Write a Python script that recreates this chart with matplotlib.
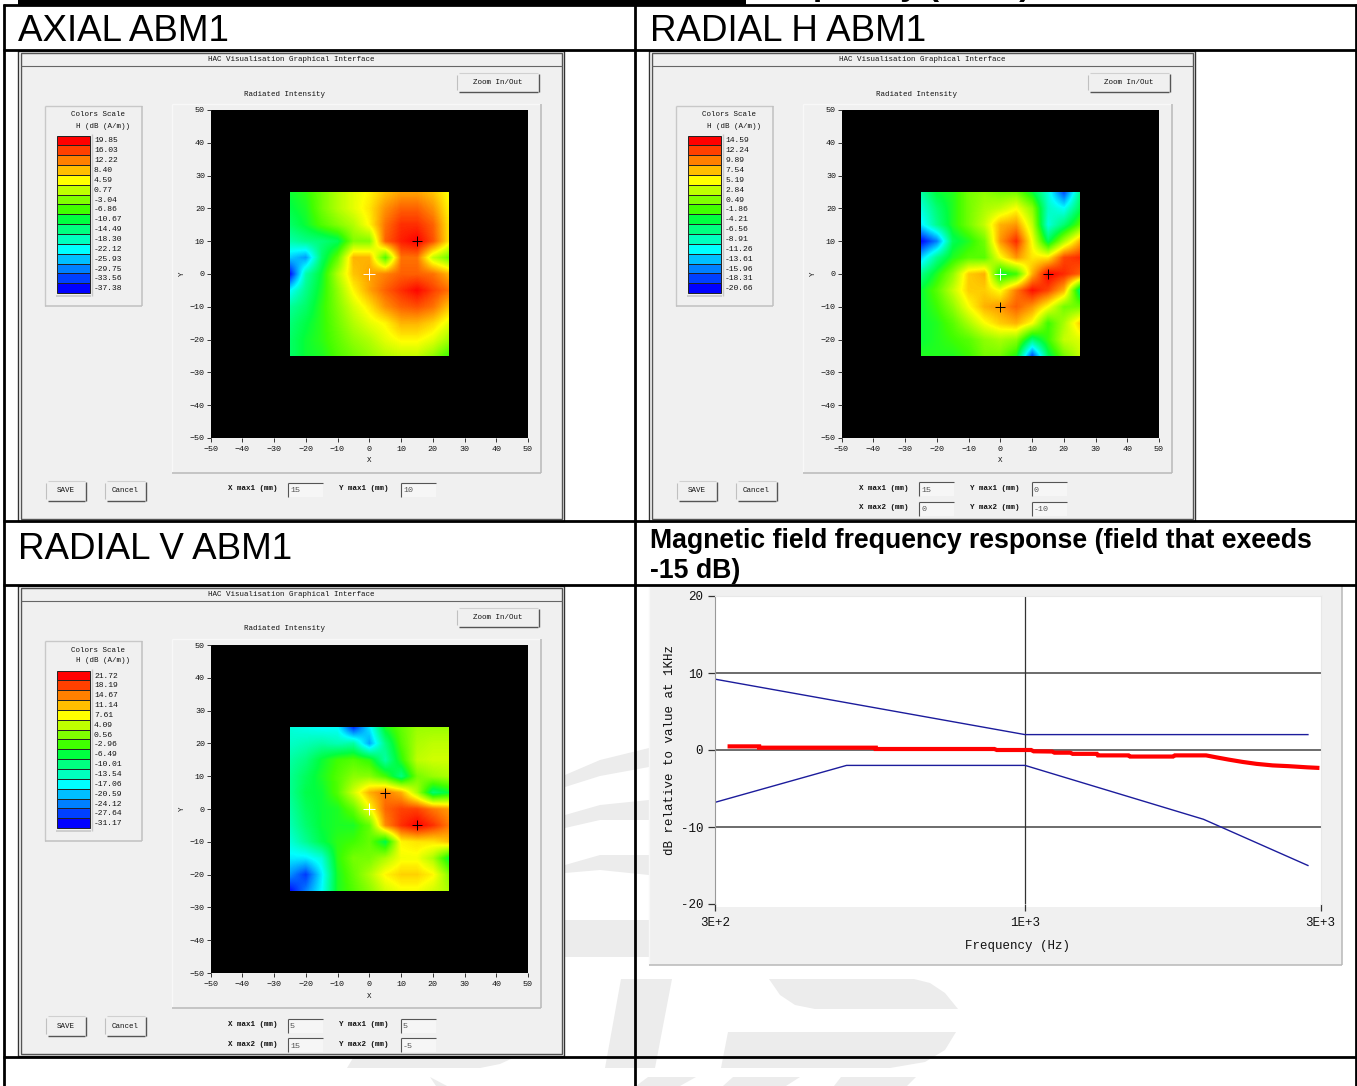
import matplotlib
matplotlib.use("Agg")
import matplotlib.pyplot as plt
import numpy as np
from matplotlib.colors import LinearSegmentedColormap
from matplotlib.patches import Polygon, Rectangle
from matplotlib.ticker import FixedLocator, NullLocator

W, H = 1357, 1086
MONO = "Liberation Mono"
SANS = "Liberation Sans"
PANEL = "#f0f0f0"
MARK = "#ececec"

scale_colors = ["#0000ff", "#0040ff", "#0080ff", "#00bfff", "#00ffff", "#00ffbf", "#00ff80", "#00ff40",
                "#40ff00", "#80ff00", "#bfff00", "#ffff00", "#ffbf00", "#ff8000", "#ff4000", "#ff0000"]

axial_scale = ["19.85", "16.03", "12.22", "8.40", "4.59", "0.77", "-3.04", "-6.86",
               "-10.67", "-14.49", "-18.30", "-22.12", "-25.93", "-29.75", "-33.56", "-37.38"]
radial_h_scale = ["14.59", "12.24", "9.89", "7.54", "5.19", "2.84", "0.49", "-1.86",
                  "-4.21", "-6.56", "-8.91", "-11.26", "-13.61", "-15.96", "-18.31", "-20.66"]
radial_v_scale = ["21.72", "18.19", "14.67", "11.14", "7.61", "4.09", "0.56", "-2.96",
                  "-6.49", "-10.01", "-13.54", "-17.06", "-20.59", "-24.12", "-27.64", "-31.17"]

# field scans, 5 mm grid, rows from y=25 down to y=-25, columns x=-25 to x=25
axial_field = [
    [-10, -8, -4, 0, 3, 5, 8, 10, 10, 8, 4],
    [-11, -9, -4, 0, 3, 6, 11, 14, 14, 11, 5],
    [-13, -10, -6, -3, 0, 5, 13, 17, 17, 14, 6],
    [-17, -15, -14, -12, -3, -3, 14, 18, 19.85, 15, 6],
    [-25, -28, -13, -5, 9, 9, -6, 13, 13, 1, -4],
    [-37, -17, -10, 0, 8, 10, 12, 14, 14, 13, 9],
    [-22, -15, -9, -2, 5, 10, 14, 17, 19.5, 16, 13],
    [-16, -13, -8, -3, 2, 6, 11, 14, 15, 13, 8],
    [-14, -11, -8, -4, 0, 3, 5, 9, 9, 7, 3],
    [-13, -10, -8, -5, -2, 0, 3, 5, 5, 3, -1],
    [-13, -10, -9, -6, -4, -2, 0, 1, 1, -2, -7],
]
radial_h_field = [
    [-8, -4, -3, 0, 1, 0, 0, -4, -10, -18, -7],
    [-10, -6, -3, 0, 2, 3, 5, 1, -9, -11, -5],
    [-12, -7, -3, 0, 3, 8, 9, 3, -10, -6, -1],
    [-20.6, -16, -5, -3, 0, 9, 13, 5, -5, 2, 8],
    [-13, -7, -3, -1, -1, 5, 9, 6, 6, 12, 13],
    [-7, -3, 1, 7, 8, -4, -2, 8, 14.5, 13, 11],
    [-4, -1, 3, 7, 7, 5, 10, 14, 12, 8, -6],
    [-4, -2, 1, 5, 8, 9, 11, 9, 5, 0, 0],
    [-4, -3, -1, 2, 5, 7, 8, 5, -2, 2, 7],
    [-4, -3, -2, -1, 1, 2, 1, -6, -2, 3, 4],
    [-3, -3, -3, -2, 0, 0, -3, -18, -5, 0, 3],
]
radial_v_field = [
    [-15, -16, -17, -17, -29, -18, -5, -1, 2, 2, 2],
    [-14, -13, -12, -13, -12, -22, -10, -2, 3, 4, 4],
    [-12, -10, -6, -3, -2, -4, -12, -4, 4, 5, 5],
    [-11, -8, -5, -2, 1, 1, -3, -10, 0, 2, 3],
    [-11, -7, -6, -2, 5, 12, 15, 12, 3, -9, -6],
    [-12, -8, -6, -5, -1, 7, 16, 18, 18, 15, 13],
    [-13, -9, -6, -5, -5, -1, 14, 19, 21.7, 19, 15],
    [-15, -11, -7, -4, -3, -1, -7, 8, 9, 9, 11],
    [-18, -18, -15, -4, 0, 0, 3, 7, 7, 3, -6],
    [-23, -28, -18, -5, -1, 3, 8, 10, 10, 8, 1],
    [-31, -24, -17, -5, -2, 1, 5, 7, 7, 5, 3],
]

axial_peaks = [(15, 10)]
radial_h_peaks = [(15, 0), (0, -10)]
radial_v_peaks = [(5, 5), (15, -5)]

axial_inputs = [("X max1", "15", "Y max1", "10")]
radial_h_inputs = [("X max1", "15", "Y max1", "0"), ("X max2", "0", "Y max2", "-10")]
radial_v_inputs = [("X max1", "5", "Y max1", "5"), ("X max2", "15", "Y max2", "-5")]

mask_upper_f = [300, 1000, 3000]
mask_upper_db = [9.2, 2, 2]
mask_lower_f = [300, 500, 1000, 2000, 3000]
mask_lower_db = [-6.8, -2, -2, -9, -15]

response_f = [315, 356, 356, 560, 560, 888, 896, 1024, 1034, 1111, 1121, 1192, 1203, 1322, 1327,
              1495, 1503, 1777, 1789, 2020, 2100, 2206, 2328, 2457, 2615, 2784, 2990, 3137]
response_db = [0.47, 0.47, 0.3, 0.3, 0.13, 0.13, 0, 0, -0.17, -0.2, -0.35, -0.35, -0.5, -0.5, -0.7,
               -0.7, -0.85, -0.85, -0.7, -0.7, -0.95, -1.25, -1.55, -1.8, -2.0, -2.1, -2.25, -2.33]

field_cmap = LinearSegmentedColormap.from_list("hac", scale_colors)

fig = plt.figure(figsize=(W / 100, H / 100), dpi=100, facecolor="white")


def px_axes(x0, y0, x1, y1, **kw):
    return fig.add_axes([x0 / W, 1 - y1 / H, (x1 - x0) / W, (y1 - y0) / H], **kw)


bg = px_axes(0, 0, W, H)
bg.set_xlim(0, W)
bg.set_ylim(H, 0)
bg.axis("off")
bg.set_zorder(1)


def mono(x, y, s, size=5.4, ha="left", color="#111111", **kw):
    bg.text(x, y, s, family=MONO, fontsize=size, ha=ha, va="center", color=color, zorder=6, **kw)


def hline(x0, x1, y, color, lw=0.8, z=5):
    bg.plot([x0, x1], [y, y], color=color, lw=lw, zorder=z, solid_capstyle="butt")


def vline(x, y0, y1, color, lw=0.8, z=5):
    bg.plot([x, x], [y0, y1], color=color, lw=lw, zorder=z, solid_capstyle="butt")


def sunken_panel(x0, y0, w, h, dark="#b8b8b8", light="#f8f8f8"):
    bg.add_patch(Rectangle((x0, y0), w, h, fc=PANEL, ec="none", zorder=3))
    hline(x0, x0 + w, y0, light, 1.0, 3.5)
    vline(x0, y0, y0 + h, light, 1.0, 3.5)
    hline(x0, x0 + w, y0 + h, dark, 1.1, 3.5)
    vline(x0 + w, y0, y0 + h, dark, 1.1, 3.5)


def button(x0, y0, x1, y1, label):
    hline(x0 + 2, x1 - 1, y0, "#d0d0d0")
    vline(x0, y0 + 2, y1 - 2, "#c0c0c0")
    hline(x0 + 2, x1 - 1, y1, "#555555", 1.0)
    vline(x1, y0 + 1, y1, "#555555", 1.0)
    mono((x0 + x1) / 2, (y0 + y1) / 2, label, ha="center")


def input_box(x0, y, value):
    bg.add_patch(Rectangle((x0, y - 7), 35, 14, fc="#f6f6f6", ec="none", zorder=4))
    hline(x0, x0 + 35, y - 7, "#555555")
    vline(x0, y - 7, y + 7, "#555555")
    mono(x0 + 2, y + 1, value, color="#555555", size=6)


def window(dx, dy, scale, field, peaks, inputs, rows):
    # frame
    bg.add_patch(Rectangle((18 + dx, 51 + dy), 546, 470, fc="white", ec="#333333", lw=1.0, zorder=2))
    bg.add_patch(Rectangle((21 + dx, 53 + dy), 541, 466, fc=PANEL, ec="#555555", lw=1.0, zorder=2))
    hline(21 + dx, 562 + dx, 66 + dy, "#666666")
    mono(291 + dx, 59.5 + dy, "HAC Visualisation Graphical Interface", ha="center")
    mono(285 + dx, 94 + dy, "Radiated Intensity", ha="center")
    button(457 + dx, 73 + dy, 539 + dx, 92 + dy, "Zoom In/Out")

    # colour scale
    sunken_panel(45 + dx, 106 + dy, 97, 200, dark="#c0c0c0", light="#c8c8c8")
    mono(98 + dx, 115 + dy, "Colors Scale", ha="center")
    mono(103 + dx, 126 + dy, "H (dB (A/m))", ha="center")
    step = 9.85
    for i, lab in enumerate(scale):
        top = 135.5 + dy + i * step
        bg.add_patch(Rectangle((56.5 + dx, top), 33.5, step, fc=scale_colors[15 - i], ec="#222222", lw=0.7, zorder=4))
        mono(94 + dx, top + 5.5, lab, size=5.8)
    vline(91.5 + dx, 134 + dy, 296 + dy, "#c8c8c8", 1.0)
    hline(56 + dx, 91 + dx, 295.5 + dy, "#c8c8c8", 1.2)

    # plot area
    sunken_panel(172 + dx, 104 + dy, 369, 369)
    ax = px_axes(210.5 + dx, 110 + dy, 528 + dx, 438 + dy, facecolor="black")
    ax.set_zorder(2)
    img = ax.imshow(field, extent=[-27.5, 27.5, -27.5, 27.5], cmap=field_cmap,
                    vmin=float(scale[-1]), vmax=float(scale[0]), interpolation="bilinear", aspect="auto")
    img.set_clip_path(Rectangle((-25, -25), 50, 50, transform=ax.transData))
    ax.set_xlim(-50, 50)
    ax.set_ylim(-50, 50)
    ax.set_xticks(np.arange(-50, 51, 10))
    ax.set_yticks(np.arange(-50, 51, 10))
    ax.tick_params(length=3, width=0.7, color="#333333", labelsize=6, labelcolor="#111111")
    ax.tick_params(axis="x", pad=3)
    ax.tick_params(axis="y", pad=1)
    for lab in ax.get_xticklabels() + ax.get_yticklabels():
        lab.set_family(MONO)
    for s in ax.spines.values():
        s.set_visible(False)
    ax.set_xlabel("X", family=MONO, fontsize=5.4, color="#111111", labelpad=3)
    ax.set_ylabel("Y", family=MONO, fontsize=5.4, color="#111111", labelpad=3)
    ax.plot([0], [0], marker="+", ms=9, mew=0.7, color="white", ls="none")
    for px, py in peaks:
        ax.plot([px], [py], marker="+", ms=6.5, mew=0.7, color="black", ls="none")

    # bottom controls
    button(46 + dx, 481 + dy, 86 + dx, 501 + dy, "SAVE")
    button(105 + dx, 481 + dy, 146 + dx, 501 + dy, "Cancel")
    for row, (xl, xv, yl, yv) in zip(rows, inputs):
        mono(228 + dx, row - 1 + dy, xl + " (mm)", weight="bold")
        input_box(288 + dx, row + dy, xv)
        mono(339 + dx, row - 1 + dy, yl + " (mm)", weight="bold")
        input_box(401 + dx, row + dy, yv)


# watermark behind the table
marks = [
    [(565, 775), (600, 760), (649, 748), (649, 767), (600, 776), (565, 787)],
    [(565, 815), (600, 805), (649, 800), (649, 820), (600, 820), (565, 828)],
    [(565, 865), (600, 855), (649, 855), (649, 875), (600, 870), (565, 873)],
    [(565, 920), (649, 920), (649, 957), (565, 957)],
    [(621, 979), (672, 979), (655, 1068), (605, 1068)],
    [(769, 979), (914, 979), (930, 983), (945, 993), (958, 1009), (815, 1009), (795, 1005), (780, 995)],
    [(728, 1032), (956, 1032), (945, 1050), (925, 1062), (890, 1068), (721, 1068)],
    [(648, 1077), (696, 1077), (680, 1086), (636, 1086)],
    [(733, 1077), (800, 1077), (786, 1086), (723, 1086)],
    [(841, 1077), (916, 1077), (907, 1086), (834, 1086)],
    [(347, 1068), (353, 1058), (513, 1058), (500, 1064), (480, 1068)],
    [(430, 1077), (447, 1086), (436, 1086)],
]
for pts in marks:
    bg.add_patch(Polygon(pts, closed=True, fc=MARK, ec="none", zorder=0.5))

window(0, 0, axial_scale, axial_field, axial_peaks, axial_inputs, [490])
window(631, 0, radial_h_scale, radial_h_field, radial_h_peaks, radial_h_inputs, [489, 508.5])
window(0, 535, radial_v_scale, radial_v_field, radial_v_peaks, radial_v_inputs, [491, 510])

# frequency response panel
sunken_panel(649, 586, 693, 379)
bg.add_patch(Rectangle((715, 596), 605.5, 311, fc="white", ec="none", zorder=3.2))
fr = px_axes(715, 596, 1320.5, 904, facecolor="white")
fr.set_zorder(2)
fr.set_xscale("log")
fr.set_xlim(300, 3150)
fr.set_ylim(-20, 20)
fr.xaxis.set_major_locator(FixedLocator([300, 1000, 3150]))
fr.xaxis.set_minor_locator(NullLocator())
fr.set_xticklabels(["3E+2", "1E+3", "3E+3"])
fr.set_yticks([-20, -10, 0, 10, 20])
fr.set_yticklabels(["-20", "-10", "0", "10", "20"])
fr.tick_params(length=5, width=0.9, color="#333333", labelsize=9, labelcolor="#111111")
fr.tick_params(axis="x", pad=4)
fr.tick_params(axis="y", pad=3.5)
for lab in fr.get_xticklabels() + fr.get_yticklabels():
    lab.set_family(MONO)
for s in ["top", "right"]:
    fr.spines[s].set_color("#e8e8e8")
fr.spines["bottom"].set_visible(False)
fr.spines["left"].set_color("#999999")
fr.axhline(10, color="#444444", lw=1.1, zorder=1)
fr.axhline(0, color="#444444", lw=1.1, zorder=1)
fr.axhline(-10, color="#444444", lw=1.1, zorder=1)
fr.axvline(1000, color="#333333", lw=0.9, zorder=1)
fr.plot(mask_upper_f, mask_upper_db, color="#1c1c9c", lw=1.0)
fr.plot(mask_lower_f, mask_lower_db, color="#1c1c9c", lw=1.0)
fr.plot(response_f, response_db, color="#ff0000", lw=3.0, solid_joinstyle="miter", solid_capstyle="butt")
fr.set_xlabel("Frequency (Hz)", family=MONO, fontsize=9, color="#111111", labelpad=8)
fr.set_ylabel("dB relative to value at 1KHz", family=MONO, fontsize=9, color="#111111", labelpad=3.5)

# table overlay with headings and rules
top = px_axes(0, 0, W, H)
top.patch.set_alpha(0)
top.set_xlim(0, W)
top.set_ylim(H, 0)
top.axis("off")
top.set_zorder(5)
top.add_patch(Rectangle((18, 0), 728, 4.5, fc="black", ec="none"))
# heading of the page above, only its descenders reach into this crop
top.text(759, -4.5, "frequency (Axial)", family=SANS, weight="bold", fontsize=24, va="baseline", clip_on=True)
for y in [4.5, 50, 521, 585, 1057]:
    top.plot([3, W], [y, y], color="black", lw=2.0, solid_capstyle="butt")
for x in [4, 635, 1356]:
    top.plot([x, x], [4, H], color="black", lw=2.0, solid_capstyle="butt")
top.text(18, 41, "AXIAL ABM1", family=SANS, fontsize=26.5, va="baseline", color="black")
top.text(650, 41, "RADIAL H ABM1", family=SANS, fontsize=26.5, va="baseline", color="black")
top.text(18, 559, "RADIAL V ABM1", family=SANS, fontsize=26.5, va="baseline", color="black")
top.text(650, 548, "Magnetic field frequency response (field that exeeds", family=SANS, weight="bold",
         fontsize=19.15, va="baseline", color="black")
top.text(650, 578, "-15 dB)", family=SANS, weight="bold", fontsize=19.15, va="baseline", color="black")

fig.savefig("out.png", dpi=100, facecolor="white")
